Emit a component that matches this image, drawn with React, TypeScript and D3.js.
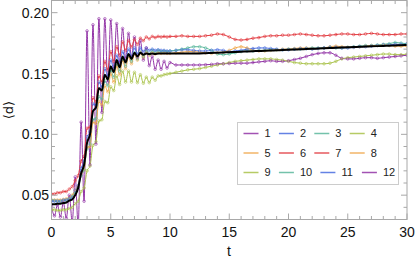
import * as d3 from 'd3'

// time grid: fine steps while the curves oscillate, coarser afterwards
const tEarly = [
    0, 0.25, 0.5, 0.75, 1, 1.25, 1.5, 1.75, 2, 2.25, 2.5, 2.75, 3, 3.25, 3.5, 3.75,
    4, 4.25, 4.5, 4.75, 5, 5.25, 5.5, 5.75, 6, 6.25, 6.5, 6.75, 7, 7.25, 7.5, 7.75,
    8, 8.25, 8.5, 8.75, 9, 9.25, 9.5, 9.75, 10,
]
const tLate = [
    10.5, 11, 11.5, 12, 12.5, 13, 13.5, 14, 14.5, 15, 15.5, 16, 16.5, 17, 17.5, 18,
    18.5, 19, 19.5, 20, 20.5, 21, 21.5, 22, 22.5, 23, 23.5, 24, 24.5, 25, 25.5, 26,
    26.5, 27, 27.5, 28, 28.5, 29, 29.5, 30,
]
const tValues = [...tEarly, ...tLate]

const purpleCurve = [
    0.041, 0.033, 0.042, 0.032, 0.044, 0.031, 0.05, 0.028, 0.065, 0.025, 0.11, 0.045,
    0.185, 0.075, 0.19, 0.092, 0.195, 0.118, 0.195, 0.143, 0.194, 0.154, 0.191, 0.159,
    0.187, 0.1625, 0.183, 0.1635, 0.18, 0.1635, 0.177, 0.161, 0.171, 0.1565, 0.164,
    0.1535, 0.161, 0.1535, 0.16, 0.1545, 0.159,
    0.157, 0.157, 0.157, 0.157, 0.157, 0.1572, 0.1575, 0.158, 0.158, 0.1582, 0.1585,
    0.1585, 0.1585, 0.159, 0.1595, 0.16, 0.1605, 0.16, 0.16, 0.1605, 0.1615, 0.1625,
    0.164, 0.1655, 0.1665, 0.167, 0.167, 0.165, 0.1625, 0.162, 0.162, 0.1625, 0.163,
    0.163, 0.1625, 0.163, 0.1635, 0.164, 0.1645, 0.165,
]
const blueCurve = [
    0.045, 0.045, 0.045, 0.045, 0.046, 0.046, 0.047, 0.048, 0.054, 0.058, 0.072, 0.078,
    0.098, 0.102, 0.125, 0.124, 0.143, 0.139, 0.154, 0.148, 0.161, 0.154, 0.165, 0.158,
    0.168, 0.161, 0.17, 0.164, 0.171, 0.166, 0.171, 0.168, 0.171, 0.169, 0.17, 0.169,
    0.1695, 0.169, 0.169, 0.1685, 0.1685,
    0.169, 0.1695, 0.1695, 0.169, 0.1685, 0.1685, 0.169, 0.1695, 0.169, 0.168, 0.1685,
    0.169, 0.17, 0.1705, 0.171, 0.171, 0.1705, 0.17, 0.1695, 0.1695, 0.17, 0.1705,
    0.1705, 0.17, 0.1705, 0.171, 0.1715, 0.1715, 0.171, 0.171, 0.1715, 0.172, 0.172,
    0.1725, 0.173, 0.1735, 0.1735, 0.174, 0.174, 0.1745,
]
const tealCurve = [
    0.046, 0.0455, 0.045, 0.045, 0.0455, 0.046, 0.047, 0.049, 0.052, 0.056, 0.066, 0.071,
    0.088, 0.092, 0.112, 0.113, 0.131, 0.129, 0.144, 0.14, 0.153, 0.147, 0.158, 0.152,
    0.162, 0.156, 0.165, 0.16, 0.167, 0.162, 0.168, 0.164, 0.169, 0.166, 0.169, 0.167,
    0.169, 0.168, 0.1685, 0.168, 0.1685,
    0.169, 0.17, 0.171, 0.172, 0.172, 0.171, 0.169, 0.166, 0.1655, 0.166, 0.167, 0.168,
    0.1685, 0.1685, 0.169, 0.169, 0.1695, 0.1695, 0.1695, 0.17, 0.17, 0.17, 0.1705,
    0.171, 0.171, 0.171, 0.1715, 0.171, 0.171, 0.1715, 0.172, 0.1725, 0.173, 0.173,
    0.1735, 0.174, 0.1745, 0.1755, 0.175, 0.1745,
]
const yellowGreenCurve = [
    0.038, 0.038, 0.0375, 0.0375, 0.038, 0.038, 0.039, 0.04, 0.043, 0.045, 0.053, 0.056,
    0.07, 0.074, 0.091, 0.094, 0.111, 0.112, 0.127, 0.126, 0.139, 0.136, 0.148, 0.141,
    0.152, 0.143, 0.152, 0.143, 0.151, 0.1425, 0.149, 0.142, 0.147, 0.1425, 0.147,
    0.1445, 0.148, 0.148, 0.149, 0.1495, 0.15,
    0.151, 0.152, 0.153, 0.1535, 0.154, 0.155, 0.156, 0.157, 0.158, 0.159, 0.16, 0.1605,
    0.161, 0.1615, 0.162, 0.162, 0.162, 0.1615, 0.161, 0.16, 0.159, 0.1585, 0.158,
    0.158, 0.158, 0.158, 0.1585, 0.16, 0.162, 0.163, 0.1635, 0.164, 0.1645, 0.165,
    0.1655, 0.166, 0.166, 0.1655, 0.1655, 0.166,
]
const orangeCurve = [
    0.046, 0.046, 0.046, 0.046, 0.0465, 0.047, 0.048, 0.05, 0.054, 0.057, 0.068, 0.071,
    0.089, 0.09, 0.11, 0.109, 0.127, 0.124, 0.14, 0.135, 0.15, 0.143, 0.156, 0.149,
    0.161, 0.154, 0.164, 0.158, 0.166, 0.161, 0.167, 0.163, 0.167, 0.165, 0.167, 0.166,
    0.167, 0.1665, 0.167, 0.1665, 0.1665,
    0.167, 0.1675, 0.168, 0.168, 0.1675, 0.167, 0.1665, 0.167, 0.1675, 0.169, 0.171,
    0.172, 0.171, 0.169, 0.1685, 0.1685, 0.169, 0.1695, 0.17, 0.17, 0.1705, 0.171,
    0.171, 0.1705, 0.1705, 0.171, 0.172, 0.1725, 0.172, 0.1715, 0.1715, 0.172, 0.1725,
    0.173, 0.173, 0.1735, 0.173, 0.1725, 0.1725, 0.1725,
]
const redCurve = [
    0.051, 0.051, 0.052, 0.052, 0.053, 0.053, 0.055, 0.057, 0.062, 0.066, 0.078, 0.082,
    0.105, 0.106, 0.13, 0.127, 0.148, 0.143, 0.16, 0.153, 0.168, 0.16, 0.172, 0.165,
    0.176, 0.169, 0.177, 0.172, 0.178, 0.174, 0.179, 0.177, 0.18, 0.1785, 0.1805,
    0.1795, 0.1805, 0.18, 0.1805, 0.18, 0.1805,
    0.1805, 0.181, 0.1805, 0.1805, 0.1805, 0.181, 0.1815, 0.1825, 0.182, 0.18, 0.178,
    0.1775, 0.178, 0.179, 0.1795, 0.1805, 0.181, 0.181, 0.1815, 0.1815, 0.182, 0.1825,
    0.182, 0.1815, 0.181, 0.181, 0.1815, 0.182, 0.1825, 0.1825, 0.182, 0.182, 0.1825,
    0.183, 0.1825, 0.182, 0.182, 0.182, 0.1825, 0.1825,
]
const meanCurve = [
    0.0425, 0.0425, 0.043, 0.043, 0.0435, 0.044, 0.0455, 0.0465, 0.05, 0.056, 0.068,
    0.075, 0.093, 0.1, 0.119, 0.122, 0.138, 0.136, 0.149, 0.145, 0.156, 0.151, 0.161,
    0.155, 0.164, 0.159, 0.166, 0.162, 0.167, 0.164, 0.167, 0.1655, 0.1665, 0.166,
    0.1665, 0.166, 0.1665, 0.1665, 0.1665, 0.1665, 0.1665,
    0.1665, 0.1665, 0.1665, 0.1665, 0.1665, 0.1667, 0.1669, 0.1671, 0.1673, 0.1675,
    0.1677, 0.1679, 0.1681, 0.1683, 0.1685, 0.1687, 0.1689, 0.1691, 0.1693, 0.1695,
    0.1697, 0.1699, 0.1701, 0.1703, 0.1705, 0.1707, 0.1709, 0.1711, 0.1713, 0.1715,
    0.1717, 0.1719, 0.1721, 0.1723, 0.1725, 0.1727, 0.1729, 0.1731, 0.1733, 0.1735,
]

// series i and 13-i sit on the same curve; 7..12 are drawn with open circles
const curves = [purpleCurve, blueCurve, tealCurve, yellowGreenCurve, orangeCurve, redCurve]
const seriesLabels = ['1', '2', '3', '4', '5', '6', '7', '8', '9', '10', '11', '12']
const seriesCurve = [0, 1, 2, 3, 4, 5, 5, 4, 3, 2, 1, 0]
const seriesColors = [
    '#9234a6', '#4a6de0', '#5cb89d', '#aac24b', '#f0a94e', '#e23c42',
    '#e23c42', '#f0a94e', '#aac24b', '#5cb89d', '#4a6de0', '#9234a6',
]

const refLineStart = 10
const refLineValue = 0.15

const xMajorTicks = [0, 5, 10, 15, 20, 25, 30]
const yMajorTicks = [0.05, 0.1, 0.15, 0.2]
const yTickLabels = ['0.05', '0.10', '0.15', '0.20']

const W = 415
const H = 260
const plot = { left: 51.5, right: 407, top: 0.5, bottom: 219.5 }

const App = () => {
    const x = d3.scaleLinear().domain([0, 30]).range([plot.left, plot.right])
    const y = d3.scaleLinear().domain([0.03, 0.21]).range([plot.bottom, plot.top])

    const line = d3
        .line<number>()
        .x((_, i) => x(tValues[i]))
        .y(d => y(d))
        .curve(d3.curveMonotoneX)

    const xMinor = d3.range(0, 31)
    const yMinor = d3.range(3, 22).map(v => v / 100)
    const axisColor = '#a8a8a8'
    const tickFont = 'Liberation Sans, Arial, sans-serif'

    // legend flows row by row
    const legendRows = [0, 1, 2].map(r => {
        let cx = 243.5
        return [0, 1, 2, 3].map(c => {
            const idx = r * 4 + c
            const item = { idx, x: cx }
            cx += 21 + seriesLabels[idx].length * 6.1 + 8.3
            return item
        })
    })
    const legendRowY = [133.5, 153, 172.5]

    return (
        <svg
            width={W}
            height={H}
            style={{ position: 'absolute', left: 0, top: 0, background: '#fff' }}
        >
            <defs>
                <clipPath id='plotClip'>
                    <rect
                        x={plot.left}
                        y={plot.top}
                        width={plot.right - plot.left}
                        height={plot.bottom - plot.top}
                    />
                </clipPath>
            </defs>

            <g clipPath='url(#plotClip)'>
                <line
                    x1={x(refLineStart)}
                    x2={x(30)}
                    y1={y(refLineValue)}
                    y2={y(refLineValue)}
                    stroke='#999'
                    strokeWidth={1}
                />
                {seriesCurve.map((ci, s) =>
                    s < 6 ? (
                        <path
                            key={'l' + s}
                            d={line(curves[ci]) || ''}
                            fill='none'
                            stroke={seriesColors[s]}
                            strokeWidth={1}
                        />
                    ) : (
                        <g key={'m' + s}>
                            {curves[ci].map((v, i) => (
                                <circle
                                    key={i}
                                    cx={x(tValues[i])}
                                    cy={y(v)}
                                    r={1.3}
                                    fill='none'
                                    stroke={seriesColors[s]}
                                    strokeWidth={0.6}
                                />
                            ))}
                        </g>
                    )
                )}
                <path
                    d={line(meanCurve) || ''}
                    fill='none'
                    stroke='#000'
                    strokeWidth={2}
                />
            </g>

            {/* frame with inward ticks on all sides */}
            <rect
                x={plot.left}
                y={plot.top}
                width={plot.right - plot.left}
                height={plot.bottom - plot.top}
                fill='none'
                stroke={axisColor}
                strokeWidth={1}
            />
            {xMinor.map(t => {
                const len = t % 5 === 0 ? 6 : 3.5
                return (
                    <g key={'xt' + t} stroke={axisColor} strokeWidth={1}>
                        <line x1={x(t)} x2={x(t)} y1={plot.bottom} y2={plot.bottom - len} />
                        <line x1={x(t)} x2={x(t)} y1={plot.top} y2={plot.top + len} />
                    </g>
                )
            })}
            {yMinor.map(v => {
                const len = Math.round(v * 100) % 5 === 0 ? 6 : 3.5
                return (
                    <g key={'yt' + v} stroke={axisColor} strokeWidth={1}>
                        <line x1={plot.left} x2={plot.left + len} y1={y(v)} y2={y(v)} />
                        <line x1={plot.right} x2={plot.right - len} y1={y(v)} y2={y(v)} />
                    </g>
                )
            })}

            {xMajorTicks.map(t => (
                <text
                    key={'xl' + t}
                    x={x(t)}
                    y={237}
                    textAnchor='middle'
                    fontFamily={tickFont}
                    fontSize={14}
                    fill='#111'
                >
                    {t}
                </text>
            ))}
            {yMajorTicks.map((v, i) => (
                <text
                    key={'yl' + v}
                    x={49}
                    y={y(v)}
                    dy='0.36em'
                    textAnchor='end'
                    fontFamily={tickFont}
                    fontSize={14}
                    fill='#111'
                >
                    {yTickLabels[i]}
                </text>
            ))}

            <text
                x={229}
                y={256}
                textAnchor='middle'
                fontFamily={tickFont}
                fontSize={14}
                fill='#111'
            >
                t
            </text>
            <text
                transform='translate(13,110) rotate(-90)'
                textAnchor='middle'
                fontFamily='DejaVu Sans, sans-serif'
                fontSize={13}
                fill='#111'
            >
                ⟨d⟩
            </text>

            {/* legend */}
            <rect x={237.5} y={122.5} width={161} height={62} fill='#fff' stroke='#ccc' />
            {legendRows.map((row, r) =>
                row.map(item => (
                    <g key={'lg' + item.idx}>
                        <line
                            x1={item.x}
                            x2={item.x + 15}
                            y1={legendRowY[r]}
                            y2={legendRowY[r]}
                            stroke={seriesColors[item.idx]}
                            strokeWidth={1.5}
                            opacity={0.85}
                        />
                        <text
                            x={item.x + 21}
                            y={legendRowY[r]}
                            dy='0.36em'
                            fontFamily={tickFont}
                            fontSize={11}
                            fill='#222'
                        >
                            {seriesLabels[item.idx]}
                        </text>
                    </g>
                ))
            )}
        </svg>
    )
}

export default App
